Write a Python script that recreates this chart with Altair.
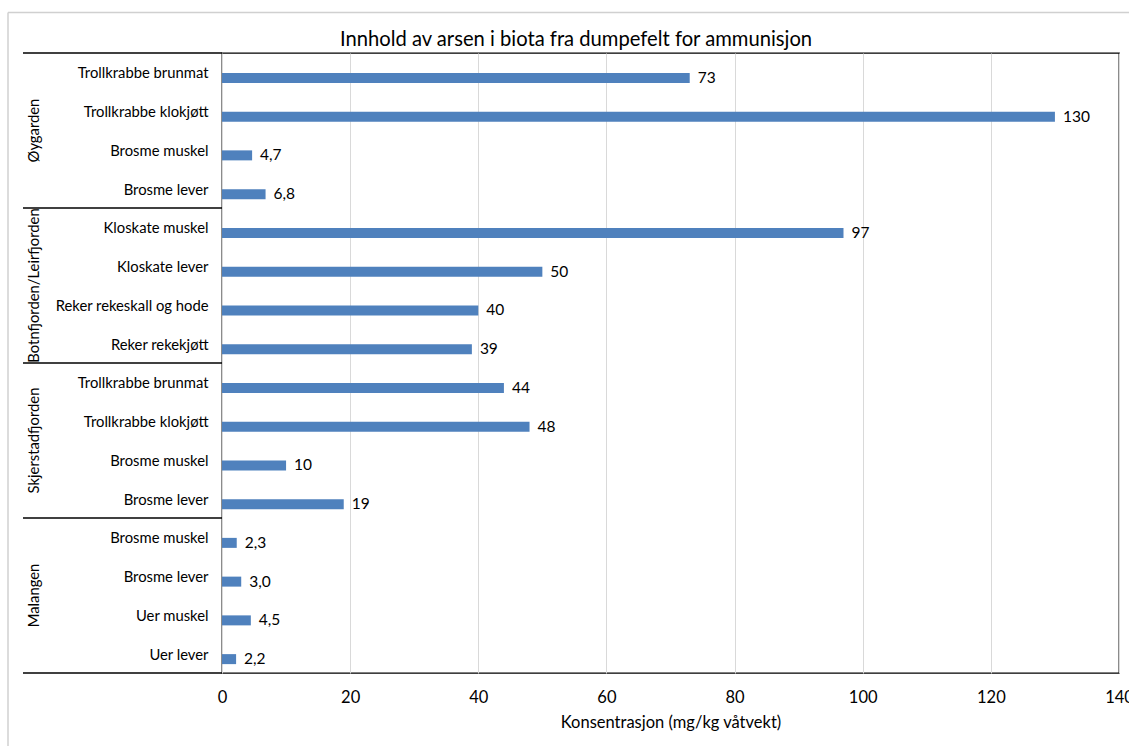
import altair as alt
import pandas as pd

groups = ["Øygarden"] * 4 + ["Botnfjorden/Leirfjorden"] * 4 + ["Skjerstadfjorden"] * 4 + ["Malangen"] * 4
samples = [
    "Trollkrabbe brunmat", "Trollkrabbe klokjøtt", "Brosme muskel", "Brosme lever",
    "Kloskate muskel", "Kloskate lever", "Reker rekeskall og hode", "Reker rekekjøtt",
    "Trollkrabbe brunmat", "Trollkrabbe klokjøtt", "Brosme muskel", "Brosme lever",
    "Brosme muskel", "Brosme lever", "Uer muskel", "Uer lever",
]
values = [73, 130, 4.7, 6.8, 97, 50, 40, 39, 44, 48, 10, 19, 2.3, 3.0, 4.5, 2.2]
value_labels = ["73", "130", "4,7", "6,8", "97", "50", "40", "39", "44", "48", "10", "19",
                "2,3", "3,0", "4,5", "2,2"]
group_names = ["Øygarden", "Botnfjorden/Leirfjorden", "Skjerstadfjorden", "Malangen"]
group_centers = [2, 6, 10, 14]
separators = [0, 4, 8, 12, 16]
x_ticks = [0, 20, 40, 60, 80, 100, 120, 140]

FONT = "Lato"
W, H = 897, 620

keys = [f"{i:02d}|{s}" for i, s in enumerate(samples)]
df = pd.DataFrame({"key": keys, "group": groups, "sample": samples,
                   "value": values, "label": value_labels})
gdf = pd.DataFrame({"name": group_names, "pos": group_centers})
sdf = pd.DataFrame({"pos": separators})

y_enc = alt.Y("key:N", sort=keys,
              scale=alt.Scale(paddingInner=0, paddingOuter=0),
              axis=alt.Axis(title=None, ticks=False, domain=False, labelPadding=14,
                            labelOffset=2,
                            labelFontSize=14.8, labelColor="#000000", labelFont=FONT,
                            labelExpr="split(datum.label, '|')[1]"))
x_enc = alt.X("value:Q", scale=alt.Scale(domain=[0, 140], nice=False),
              axis=alt.Axis(values=x_ticks, grid=True, gridColor="#D9D9D9", ticks=False,
                            domain=False, labelFontSize=16.5, labelColor="#000000",
                            labelFont=FONT, labelPadding=16, labelFlush=False,
                            labelBound=False,
                            title="Konsentrasjon (mg/kg våtvekt)", titleFont=FONT,
                            titleFontSize=16.5, titleFontWeight="normal",
                            titleColor="#000000", titlePadding=9))

base = alt.Chart(df)
bars = base.mark_bar(color="#4F81BD", size=10, yOffset=5.5).encode(x=x_enc, y=y_enc)
texts = base.mark_text(align="left", baseline="middle", dx=8, yOffset=5.5,
                       fontSize=15.5, font=FONT, color="#000000").encode(
    x="value:Q", y=alt.Y("key:N", sort=keys), text="label:N")

gscale = alt.Scale(domain=[0, 16], reverse=True, nice=False, zero=False)
glabels = alt.Chart(gdf).mark_text(angle=270, align="center", baseline="middle",
                                   fontSize=14.8, font=FONT, color="#000000").encode(
    x=alt.value(-187), y=alt.Y("pos:Q", scale=gscale, axis=None), text="name:N")
seps = alt.Chart(sdf).mark_rule(color="#000000", strokeWidth=1.3).encode(
    x=alt.value(-199), x2=alt.value(0), y=alt.Y("pos:Q", scale=gscale, axis=None))

one = alt.Data(values=[{"a": 1}])
title = alt.Chart(one).mark_text(align="center", baseline="middle", fontSize=20.2,
                                 font=FONT, color="#000000").encode(
    x=alt.value(354), y=alt.value(-13), text=alt.value("Innhold av arsen i biota fra dumpefelt for ammunisjon"))
border_top = alt.Chart(one).mark_rule(color="#D0D0D0", strokeWidth=1.5).encode(
    x=alt.value(-214), x2=alt.value(1000), y=alt.value(-40.5))
border_left = alt.Chart(one).mark_rule(color="#D0D0D0", strokeWidth=1.5).encode(
    x=alt.value(-214), y=alt.value(-40.5), y2=alt.value(720))

main = alt.layer(bars, texts)
guides = alt.layer(glabels, seps)

chart = alt.layer(main, guides, title, border_top, border_left).resolve_scale(
    y="independent"
).properties(
    width=W, height=H,
    autosize=alt.AutoSizeParams(type="none"),
    padding={"left": 222, "top": 53, "right": 10, "bottom": 73},
    background="white",
).configure_view(stroke="#000000", strokeWidth=1.3)

chart.save("out.html", embed_options={"renderer": "svg", "actions": False})
